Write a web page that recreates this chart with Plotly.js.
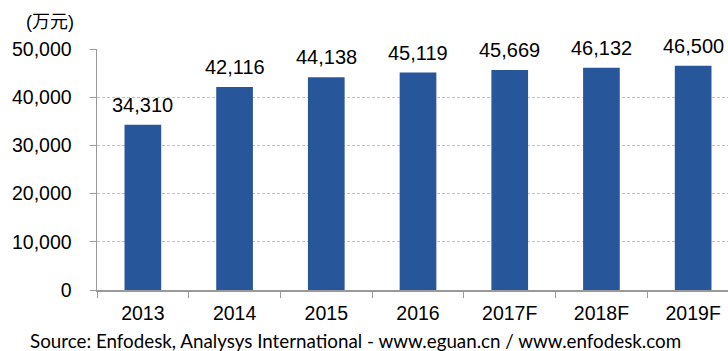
<!DOCTYPE html>
<html><head><meta charset="utf-8">
<script src="https://cdn.plot.ly/plotly-3.0.1.min.js"></script>
<style>html,body{margin:0;padding:0;background:#fff}#c{width:728px;height:351px}</style>
</head><body><div id="c"></div>
<script>
const years = ["2013","2014","2015","2016","2017F","2018F","2019F"];
const values = [34310, 42116, 44138, 45119, 45669, 46132, 46500];
const valueLabels = ["34,310","42,116","44,138","45,119","45,669","46,132","46,500"];
const unitLabel = "(万元)";
const sourceText = "Source: Enfodesk, Analysys International - www.eguan.cn / www.enfodesk.com";

const font = "'Liberation Sans', Arial, sans-serif";
const anns = years.map((y,i)=>({x:i,y:values[i],xref:'x',yref:'y',text:valueLabels[i],showarrow:false,yanchor:'bottom',yshift:7,font:{family:font,size:20,color:'#000'}}));
anns.push({xref:'paper',yref:'paper',x:-0.0745,y:1.112,xanchor:'center',yanchor:'middle',text:unitLabel,showarrow:false,font:{family:"'Liberation Sans', 'Noto Sans CJK SC', sans-serif",size:18,color:'#000'}});
anns.push({xref:'paper',yref:'paper',x:-0.11,y:-0.21,xanchor:'left',yanchor:'middle',text:sourceText,showarrow:false,font:{family:"Lato, sans-serif",size:18.8,color:'#000'}});

Plotly.newPlot('c',[{type:'bar',x:years,y:values,marker:{color:'#27579A'},hoverinfo:'none'}],{
  width:728,height:351,margin:{l:97,r:0,t:49,b:61},
  paper_bgcolor:'#fff',plot_bgcolor:'#fff',
  bargap:0.6,showlegend:false,
  xaxis:{type:'category',range:[-0.5,6.38],showline:true,linecolor:'#999',linewidth:1.5,ticks:'outside',tickson:'boundaries',ticklen:6,tickcolor:'#999',
    showgrid:false,tickfont:{family:font,size:19.5,color:'#000'},ticklabelstandoff:5,zeroline:false},
  yaxis:{range:[0,50000],dtick:10000,tickformat:',d',showline:true,linecolor:'#999',linewidth:1.5,ticks:'outside',ticklen:6,tickcolor:'#999',
    gridcolor:'#c4c4c4',griddash:'3px,2px',gridwidth:1,zeroline:false,tickfont:{family:font,size:19.5,color:'#000'},ticklabelstandoff:14},
  annotations:anns
},{staticPlot:true});
</script></body></html>
